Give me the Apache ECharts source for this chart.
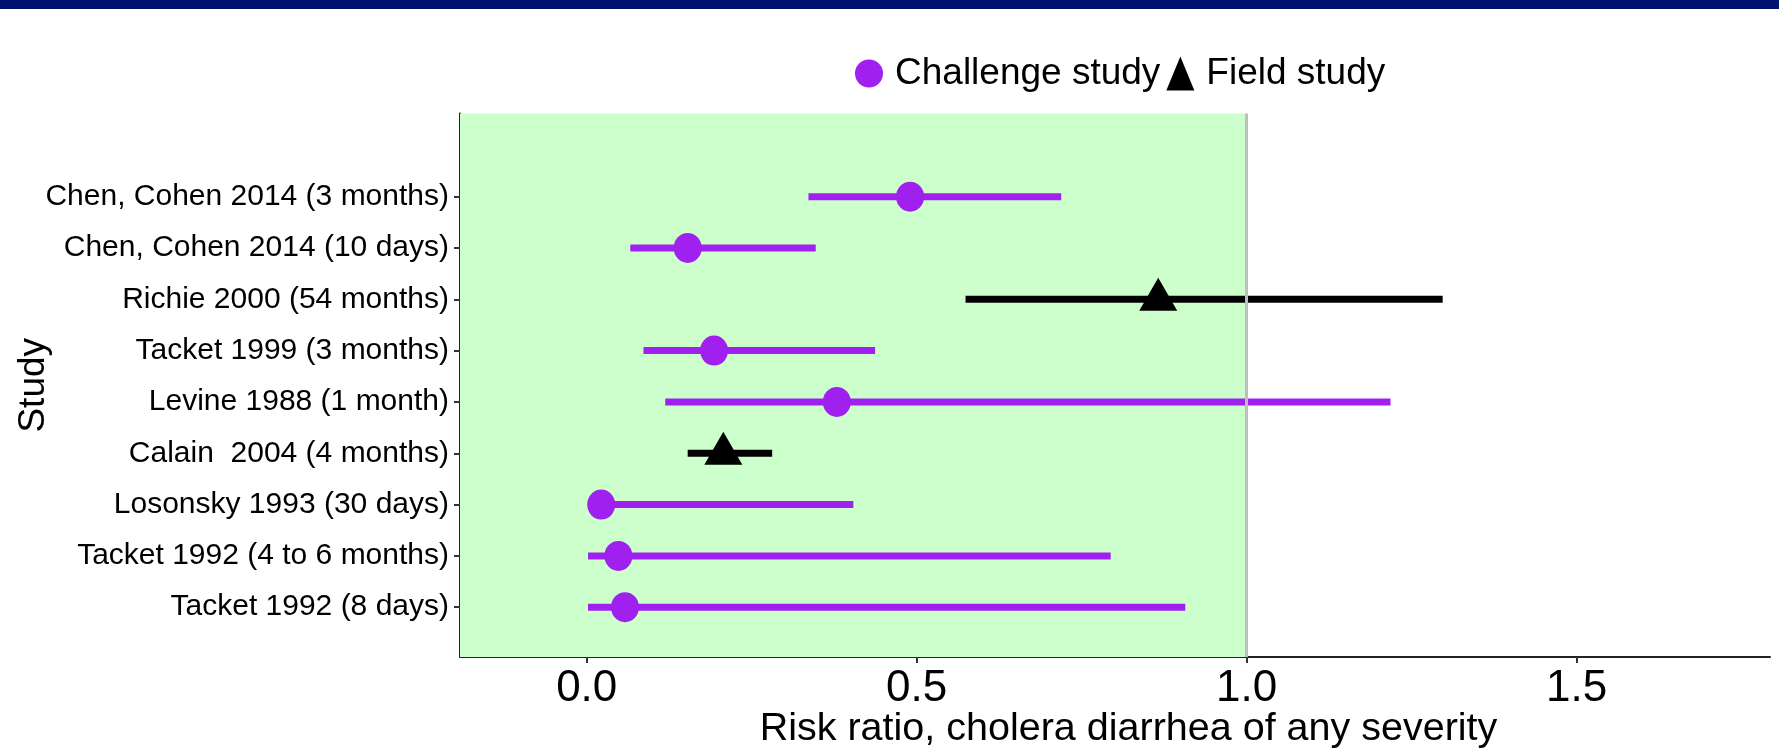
<!DOCTYPE html>
<html>
<head>
<meta charset="utf-8">
<title>Risk ratio by study</title>
<script src="https://cdn.jsdelivr.net/npm/echarts@6.0.0/dist/echarts.min.js"></script>
<style>
  html, body { margin: 0; padding: 0; background: #fff; }
  #chart { width: 1779px; height: 750px; }
</style>
</head>
<body>
<div id="chart"></div>
<script>
// studies listed top to bottom
const studies = [
  'Chen, Cohen 2014 (3 months)',
  'Chen, Cohen 2014 (10 days)',
  'Richie 2000 (54 months)',
  'Tacket 1999 (3 months)',
  'Levine 1988 (1 month)',
  'Calain  2004 (4 months)',
  'Losonsky 1993 (30 days)',
  'Tacket 1992 (4 to 6 months)',
  'Tacket 1992 (8 days)'
];
const studyType = [
  'Challenge study', 'Challenge study', 'Field study', 'Challenge study',
  'Challenge study', 'Field study', 'Challenge study', 'Challenge study', 'Challenge study'
];
const riskRatio = [0.490, 0.153, 0.866, 0.193, 0.379, 0.207, 0.022, 0.048, 0.058];
const lowerCI   = [0.336, 0.066, 0.574, 0.086, 0.119, 0.153, 0.010, 0.002, 0.002];
const upperCI   = [0.719, 0.347, 1.297, 0.437, 1.218, 0.281, 0.404, 0.794, 0.907];
const xTicks = [0, 0.5, 1.0, 1.5];

const X_MIN = -0.192, X_MAX = 1.793;
const PURPLE = '#A020F0';
const FONT = "'Liberation Sans', Arial, sans-serif";

// row position on the y scale (top row highest)
const ypos = (i) => studies.length - i;
const rowTicks = studies.map((s, i) => ypos(i));

function groupData(type) {
  const pts = [], bars = [];
  studies.forEach((s, i) => {
    if (studyType[i] !== type) return;
    pts.push([riskRatio[i], ypos(i)]);
    bars.push([ypos(i), lowerCI[i], upperCI[i]]);
  });
  return { pts, bars };
}

const challenge = groupData('Challenge study');
const field = groupData('Field study');

function errorBar(color) {
  return function (params, api) {
    const a = api.coord([api.value(1), api.value(0)]);
    const b = api.coord([api.value(2), api.value(0)]);
    return {
      type: 'line',
      shape: { x1: a[0], y1: a[1], x2: b[0], y2: b[1] },
      style: { stroke: color, lineWidth: 7 }
    };
  };
}

const chart = echarts.init(document.getElementById('chart'), null, { renderer: 'canvas' });

chart.setOption({
  backgroundColor: '#fff',
  animation: false,
  textStyle: { fontFamily: FONT },
  graphic: [
    { type: 'rect', left: 0, top: 0, shape: { width: 1779, height: 9 }, style: { fill: '#001270' }, z: 10 }
  ],
  legend: {
    left: 850,
    top: 50,
    itemWidth: 28,
    itemHeight: 34,
    itemGap: 6,
    textStyle: { fontSize: 37, color: '#000', fontFamily: FONT, padding: [0, 0, 0, 7] },
    data: [
      { name: 'Challenge study', icon: 'circle', itemStyle: { color: PURPLE } },
      { name: 'Field study', icon: 'triangle', itemStyle: { color: '#000' } }
    ]
  },
  grid: { left: 460, right: 9, top: 113.5, bottom: 93, outerBoundsMode: 'none', containLabel: false },
  xAxis: {
    type: 'value',
    min: X_MIN,
    max: X_MAX,
    name: 'Risk ratio, cholera diarrhea of any severity',
    nameLocation: 'middle',
    nameGap: 52,
    nameMoveOverlap: false,
    nameTextStyle: { fontSize: 39.5, color: '#000', fontFamily: FONT, padding: [0, 0, 0, 27] },
    axisLine: { show: true, onZero: false, lineStyle: { color: '#222', width: 2 } },
    axisTick: { show: true, customValues: xTicks, length: 6, lineStyle: { color: '#333', width: 2 } },
    axisLabel: {
      customValues: xTicks,
      formatter: (v) => v.toFixed(1),
      fontSize: 44,
      color: '#000',
      margin: 10,
      fontFamily: FONT
    },
    splitLine: { show: false }
  },
  yAxis: {
    type: 'value',
    min: 0.03,
    max: 10.62,
    name: 'Study',
    nameLocation: 'middle',
    nameGap: 408,
    nameMoveOverlap: false,
    nameTextStyle: { fontSize: 37, color: '#000', fontFamily: FONT },
    axisLine: { show: true, onZero: false, lineStyle: { color: '#222', width: 2 } },
    axisTick: { show: true, customValues: rowTicks, length: 6, lineStyle: { color: '#333', width: 2 } },
    axisLabel: {
      customValues: rowTicks,
      formatter: (v) => studies[studies.length - v],
      fontSize: 30,
      color: '#000',
      margin: 11,
      fontFamily: FONT
    },
    splitLine: { show: false }
  },
  series: [
    {
      // shaded region left of RR = 1 and the reference line
      name: 'background',
      type: 'line',
      data: [],
      silent: true,
      z: 0,
      markArea: {
        silent: true,
        itemStyle: { color: '#CCFFCC' },
        data: [[{ xAxis: X_MIN }, { xAxis: 1 }]]
      },
      markLine: {
        silent: true,
        symbol: ['none', 'none'],
        label: { show: false },
        lineStyle: { color: '#BEBEBE', width: 3, type: 'solid' },
        data: [{ xAxis: 1 }]
      }
    },
    {
      name: 'Challenge study',
      type: 'custom',
      renderItem: errorBar(PURPLE),
      encode: { x: [1, 2], y: 0 },
      data: challenge.bars,
      z: 2
    },
    {
      name: 'Field study',
      type: 'custom',
      renderItem: errorBar('#000'),
      encode: { x: [1, 2], y: 0 },
      data: field.bars,
      z: 2
    },
    {
      name: 'Challenge study',
      type: 'scatter',
      symbol: 'circle',
      symbolSize: [28, 30],
      itemStyle: { color: PURPLE, opacity: 1 },
      data: challenge.pts,
      z: 3
    },
    {
      name: 'Field study',
      type: 'scatter',
      symbol: 'triangle',
      symbolSize: [38, 33],
      symbolOffset: [0, -5],
      itemStyle: { color: '#000', opacity: 1 },
      data: field.pts,
      z: 3
    }
  ]
});
</script>
</body>
</html>
